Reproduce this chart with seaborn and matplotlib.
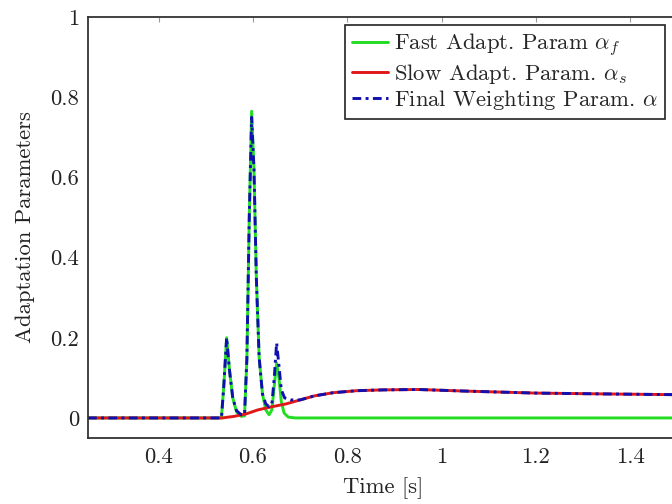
import matplotlib
matplotlib.use("Agg")
import matplotlib.pyplot as plt
import seaborn as sns
import pandas as pd

# ---- data ----
fast_t = [0.25, 0.533, 0.538, 0.544, 0.550, 0.557, 0.565, 0.575, 0.582, 0.587, 0.592,
          0.597, 0.602, 0.607, 0.613, 0.620, 0.627, 0.634, 0.640, 0.645, 0.650, 0.655,
          0.660, 0.666, 0.675, 0.690, 1.50]
fast_v = [0.0, 0.0, 0.08, 0.20, 0.12, 0.05, 0.015, 0.004, 0.005, 0.15, 0.50,
          0.765, 0.62, 0.35, 0.15, 0.06, 0.02, 0.008, 0.02, 0.08, 0.137, 0.10,
          0.04, 0.012, 0.002, 0.0, 0.0]

slow_t = [0.25, 0.535, 0.56, 0.585, 0.61, 0.64, 0.67, 0.70, 0.73, 0.77, 0.82, 0.876,
          0.95, 1.05, 1.20, 1.34, 1.50]
slow_v = [0.0, 0.0, 0.004, 0.010, 0.020, 0.028, 0.035, 0.045, 0.055, 0.063, 0.068, 0.070,
          0.071, 0.067, 0.062, 0.060, 0.058]

final_t = [0.25, 0.533, 0.538, 0.544, 0.550, 0.557, 0.565, 0.575, 0.582, 0.587, 0.592,
           0.597, 0.602, 0.607, 0.613, 0.620, 0.627, 0.634, 0.640, 0.645, 0.650, 0.655,
           0.660, 0.667, 0.680, 0.70, 0.73, 0.77, 0.82, 0.876, 0.95, 1.05, 1.20, 1.34, 1.50]
final_v = [0.0, 0.0, 0.08, 0.20, 0.12, 0.05, 0.018, 0.008, 0.008, 0.15, 0.50,
           0.75, 0.62, 0.35, 0.15, 0.06, 0.035, 0.028, 0.035, 0.10, 0.187, 0.13,
           0.07, 0.05, 0.045, 0.045, 0.055, 0.063, 0.068, 0.070, 0.071, 0.067, 0.062, 0.060, 0.058]

labels = ["Fast Adapt. Param $\\alpha_f$", "Slow Adapt. Param. $\\alpha_s$",
          "Final Weighting Param. $\\alpha$"]

xticks = [0.4, 0.6, 0.8, 1.0, 1.2, 1.4]
xtick_labels = ["0.4", "0.6", "0.8", "1", "1.2", "1.4"]
yticks = [0.0, 0.2, 0.4, 0.6, 0.8, 1.0]
ytick_labels = ["0", "0.2", "0.4", "0.6", "0.8", "1"]

# ---- style ----
sns.set_theme(style="white")
plt.rcParams["font.family"] = ["cmr10", "DejaVu Serif"]
plt.rcParams["mathtext.fontset"] = "cm"
plt.rcParams["axes.formatter.use_mathtext"] = True
plt.rcParams["axes.unicode_minus"] = False

FS = 16.3

fig = plt.figure(figsize=(6.72, 5.04), dpi=100)
W, H = 672, 504
left, right, top, bottom = 88, 677.4, 17, 438
ax = fig.add_axes([left / W, 1 - bottom / H, (right - left) / W, (bottom - top) / H])

df_fast = pd.DataFrame({"t": fast_t, "v": fast_v})
df_slow = pd.DataFrame({"t": slow_t, "v": slow_v})
df_final = pd.DataFrame({"t": final_t, "v": final_v})

sns.lineplot(data=df_fast, x="t", y="v", ax=ax, color="#22dd22", linewidth=2.1,
             label=labels[0], estimator=None)
sns.lineplot(data=df_slow, x="t", y="v", ax=ax, color="#e01818", linewidth=2.1,
             label=labels[1], estimator=None)
sns.lineplot(data=df_final, x="t", y="v", ax=ax, color="#1010b0", linewidth=2.1,
             linestyle=(0, (3, 1.5, 1, 1.5)), label=labels[2], estimator=None)

ax.set_xlim(0.25, 1.5)
ax.set_ylim(-0.05, 1.0)
ax.set_xticks(xticks)
ax.set_xticklabels(xtick_labels)
ax.set_yticks(yticks)
ax.set_yticklabels(ytick_labels)
ax.tick_params(direction="in", length=3.6, width=0.8, color="#999999",
               top=True, right=True, labelsize=FS, labelcolor="#222222", pad=6.5)
for s in ax.spines.values():
    s.set_color("#333333")
    s.set_linewidth(1.3)

ax.set_xlabel("Time [s]", fontsize=FS, color="#222222", labelpad=7.5)
ax.set_ylabel("Adaptation Parameters", fontsize=FS, color="#222222", labelpad=11)

leg = ax.legend(loc="upper right", bbox_to_anchor=(665 / W, 1 - 25 / H),
                bbox_transform=fig.transFigure, borderaxespad=0, fontsize=FS,
                frameon=True, fancybox=False, framealpha=1, edgecolor="#222222",
                handlelength=1.6, handletextpad=0.27, labelspacing=0.12,
                borderpad=0.3)
leg.get_frame().set_linewidth(1.2)

fig.savefig("out.png", dpi=100)
